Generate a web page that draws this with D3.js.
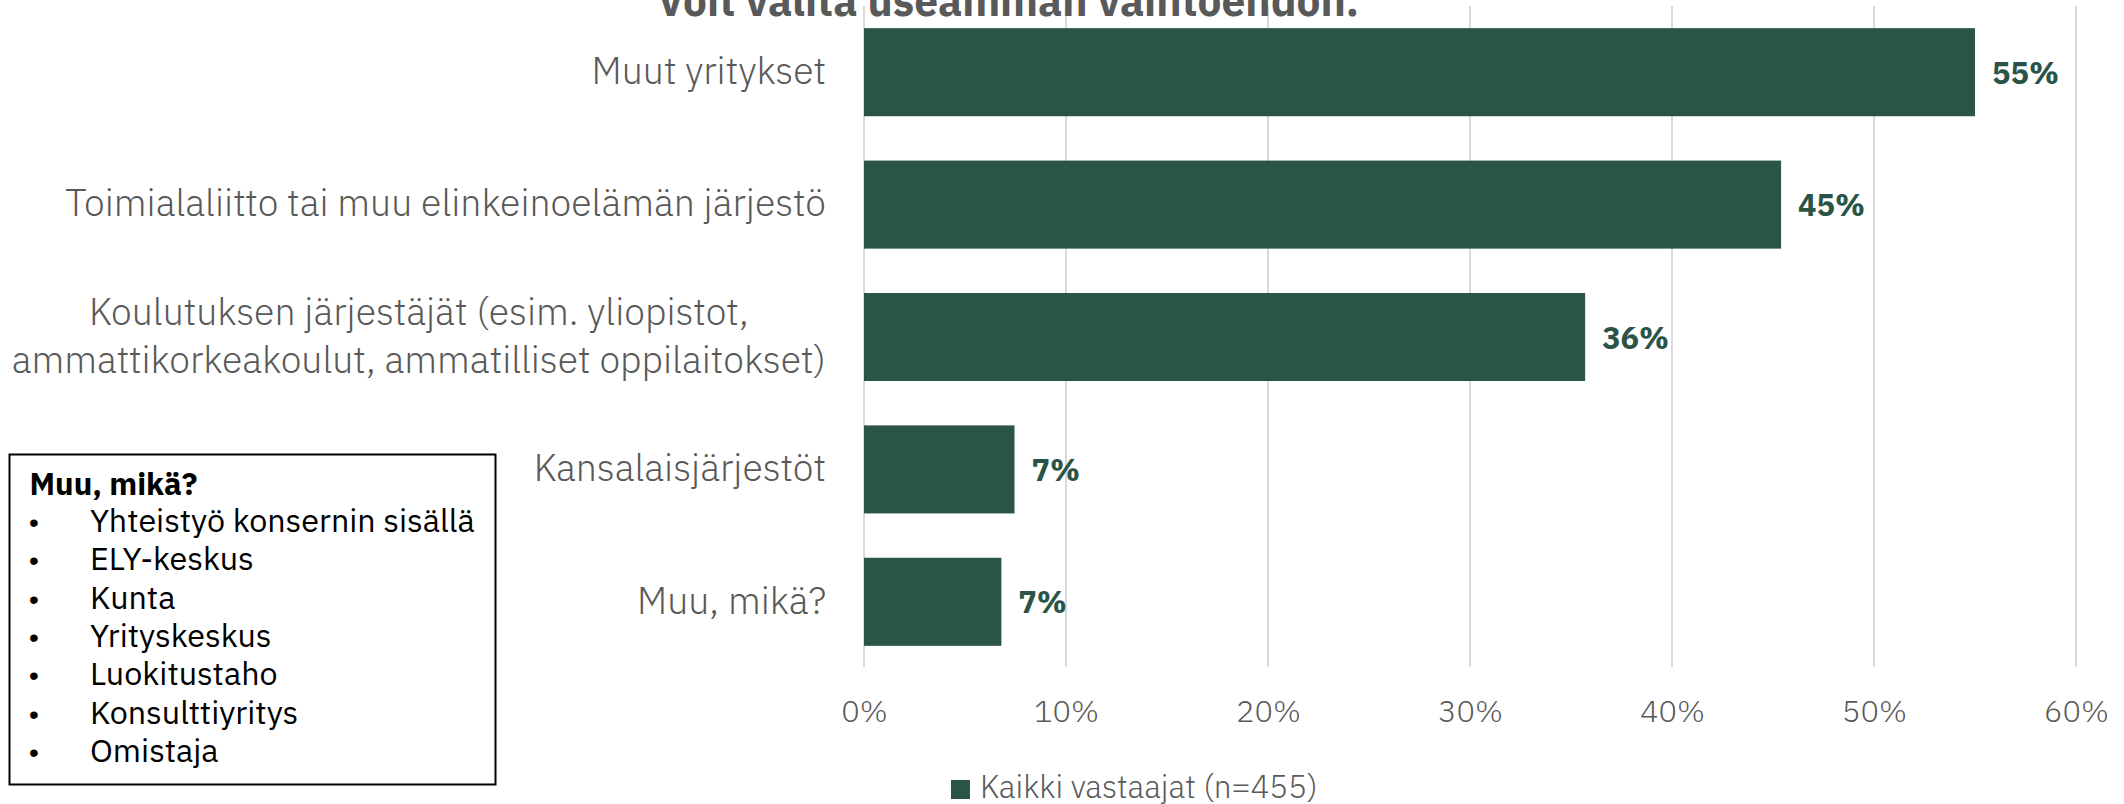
<!DOCTYPE html>
<html>
<head>
<meta charset="utf-8">
<script src="https://cdn.jsdelivr.net/npm/d3@7"></script>
<style>
  html, body { margin: 0; padding: 0; background: #ffffff; }
  svg { display: block; }
</style>
</head>
<body>
<svg id="chart" width="2124" height="804"></svg>
<script>
// ---- data ----
const titleText = "Voit valita useamman vaihtoehdon.";
const categories = [
  "Muut yritykset",
  "Toimialaliitto tai muu elinkeinoelämän järjestö",
  "Koulutuksen järjestäjät (esim. yliopistot,\nammattikorkeakoulut, ammatilliset oppilaitokset)",
  "Kansalaisjärjestöt",
  "Muu, mikä?"
];
const values = [0.550, 0.454, 0.357, 0.0745, 0.068];
const xTicks = [0, 0.1, 0.2, 0.3, 0.4, 0.5, 0.6];
const seriesName = "Kaikki vastaajat (n=455)";
const boxTitle = "Muu, mikä?";
const boxItems = [
  "Yhteistyö konsernin sisällä",
  "ELY-keskus",
  "Kunta",
  "Yrityskeskus",
  "Luokitustaho",
  "Konsulttiyritys",
  "Omistaja"
];

// ---- styles ----
const barColor = "#2a5446";
const textGray = "#595959";
const gridColor = "#d9d9d9";
const lightFont = "'IBM Plex Sans', 'Noto Sans', Roboto, sans-serif";
const boldFont = "'IBM Plex Sans', 'Noto Sans', Roboto, sans-serif";

// scale a font size so a text's width matches a target width
function fitFactor(textSel, target) {
  const w = textSel.node().getComputedTextLength();
  return w > 0 ? target / w : 1;
}

const svg = d3.select("#chart");

const x = d3.scaleLinear().domain([0, 0.6]).range([864, 2076]);
const y = d3.scaleBand().domain(categories).range([6, 668])
  .paddingInner(0.335).paddingOuter(0.1675);

// gridlines
svg.append("g").selectAll("line").data(xTicks).join("line")
  .attr("x1", d => x(d)).attr("x2", d => x(d))
  .attr("y1", 6).attr("y2", 667)
  .attr("stroke", gridColor).attr("stroke-width", 2);

// bars
svg.append("g").selectAll("rect").data(values).join("rect")
  .attr("x", x(0))
  .attr("y", (d, i) => y(categories[i]))
  .attr("width", d => x(d) - x(0))
  .attr("height", y.bandwidth())
  .attr("fill", barColor);

// value labels
const vl = svg.append("g").selectAll("text").data(values).join("text")
  .attr("x", d => x(d) + 17)
  .attr("y", (d, i) => y(categories[i]) + y.bandwidth() / 2 + 11.5)
  .attr("font-family", boldFont)
  .attr("font-weight", 700)
  .attr("font-size", 32)
  .attr("fill", barColor)
  .text(d => Math.round(d * 100) + "%");
{
  const f = fitFactor(vl.filter((d, i) => i === 0), 67);
  vl.attr("font-size", 32 * Math.min(f, 1.12));
}

// x axis
const xAxis = svg.append("g")
  .attr("transform", "translate(0,668)")
  .call(d3.axisBottom(x).tickValues(xTicks).tickFormat(d3.format(".0%")).tickSize(0));
xAxis.select(".domain").remove();
const xt = xAxis.selectAll("text")
  .attr("y", 54).attr("dy", 0)
  .attr("font-family", lightFont)
  .attr("font-weight", 300)
  .attr("font-size", 31)
  .attr("fill", textGray);
{
  const f = fitFactor(xt.filter(d => d === 0.1), 65);
  xt.attr("font-size", 31 * Math.min(f, 1.12));
}

// y axis (category labels)
const yAxis = svg.append("g")
  .attr("transform", "translate(864,0)")
  .call(d3.axisLeft(y).tickSize(0).tickPadding(38).tickFormat(""));
yAxis.select(".domain").remove();
const catTexts = yAxis.selectAll(".tick text");
catTexts.each(function(d) {
  const t = d3.select(this);
  t.text(null)
    .attr("font-family", lightFont)
    .attr("font-weight", 300)
    .attr("font-size", 36)
    .attr("fill", textGray)
    .attr("dy", null)
    .attr("y", 0);
  const lines = d.split("\n");
  lines.forEach(ln => t.append("tspan").attr("x", -38).text(ln));
});
{
  const refText = catTexts.filter(d => d === categories[1]);
  const f = fitFactor(refText, 761);
  catTexts.attr("font-size", 36 * f);
}
catTexts.each(function(d) {
  const t = d3.select(this);
  const spans = t.selectAll("tspan");
  const n = spans.size();
  const lh = 47.4;
  const y0 = 11.8 - (n - 1) * lh / 2;
  spans.attr("y", (s, k) => y0 + k * lh);
  if (n > 1) {
    const widths = [];
    spans.each(function() { widths.push(this.getComputedTextLength()); });
    const maxW = d3.max(widths);
    t.attr("text-anchor", "middle");
    spans.attr("x", -38 - maxW / 2);
  }
});

// title (cut at top as in the source)
const title = svg.append("text")
  .attr("x", 657).attr("y", 16)
  .attr("font-family", boldFont)
  .attr("font-weight", 700)
  .attr("font-size", 34)
  .attr("fill", textGray)
  .text(titleText);
title.attr("font-size", 34 * fitFactor(title, 702));

// legend
const lg = svg.append("g");
lg.append("rect").attr("x", 951).attr("y", 780).attr("width", 19).attr("height", 19).attr("fill", barColor);
const lgt = lg.append("text").attr("x", 980).attr("y", 798)
  .attr("font-family", lightFont).attr("font-weight", 300).attr("font-size", 31)
  .attr("fill", textGray).text(seriesName);
lgt.attr("font-size", 31 * Math.min(fitFactor(lgt, 338), 1.12));

// text box
const bx = svg.append("g");
bx.append("rect").attr("x", 9.5).attr("y", 454.5).attr("width", 486).attr("height", 330)
  .attr("fill", "#ffffff").attr("stroke", "#000000").attr("stroke-width", 2);
const bt = bx.append("text").attr("x", 29.5).attr("y", 495)
  .attr("font-family", boldFont)
  .attr("font-weight", 700).attr("font-size", 29).attr("fill", "#000000")
  .text(boxTitle);
bt.attr("font-size", 29 * Math.min(fitFactor(bt, 168), 1.15));
const items = bx.selectAll("g.item").data(boxItems).join("g").attr("class", "item");
items.append("text").attr("x", 29).attr("y", (d, i) => 532 + i * 38.3)
  .attr("font-family", "Arial, 'Liberation Sans', sans-serif").attr("font-size", 28)
  .attr("fill", "#000000").text("•");
const it = items.append("text").attr("x", 90).attr("y", (d, i) => 532 + i * 38.3)
  .attr("font-family", boldFont)
  .attr("font-weight", 400).attr("font-size", 29).attr("fill", "#000000")
  .text(d => d);
{
  const f = fitFactor(it.filter((d, i) => i === 0), 385);
  it.attr("font-size", 29 * Math.min(f, 1.15));
}
</script>
</body>
</html>
